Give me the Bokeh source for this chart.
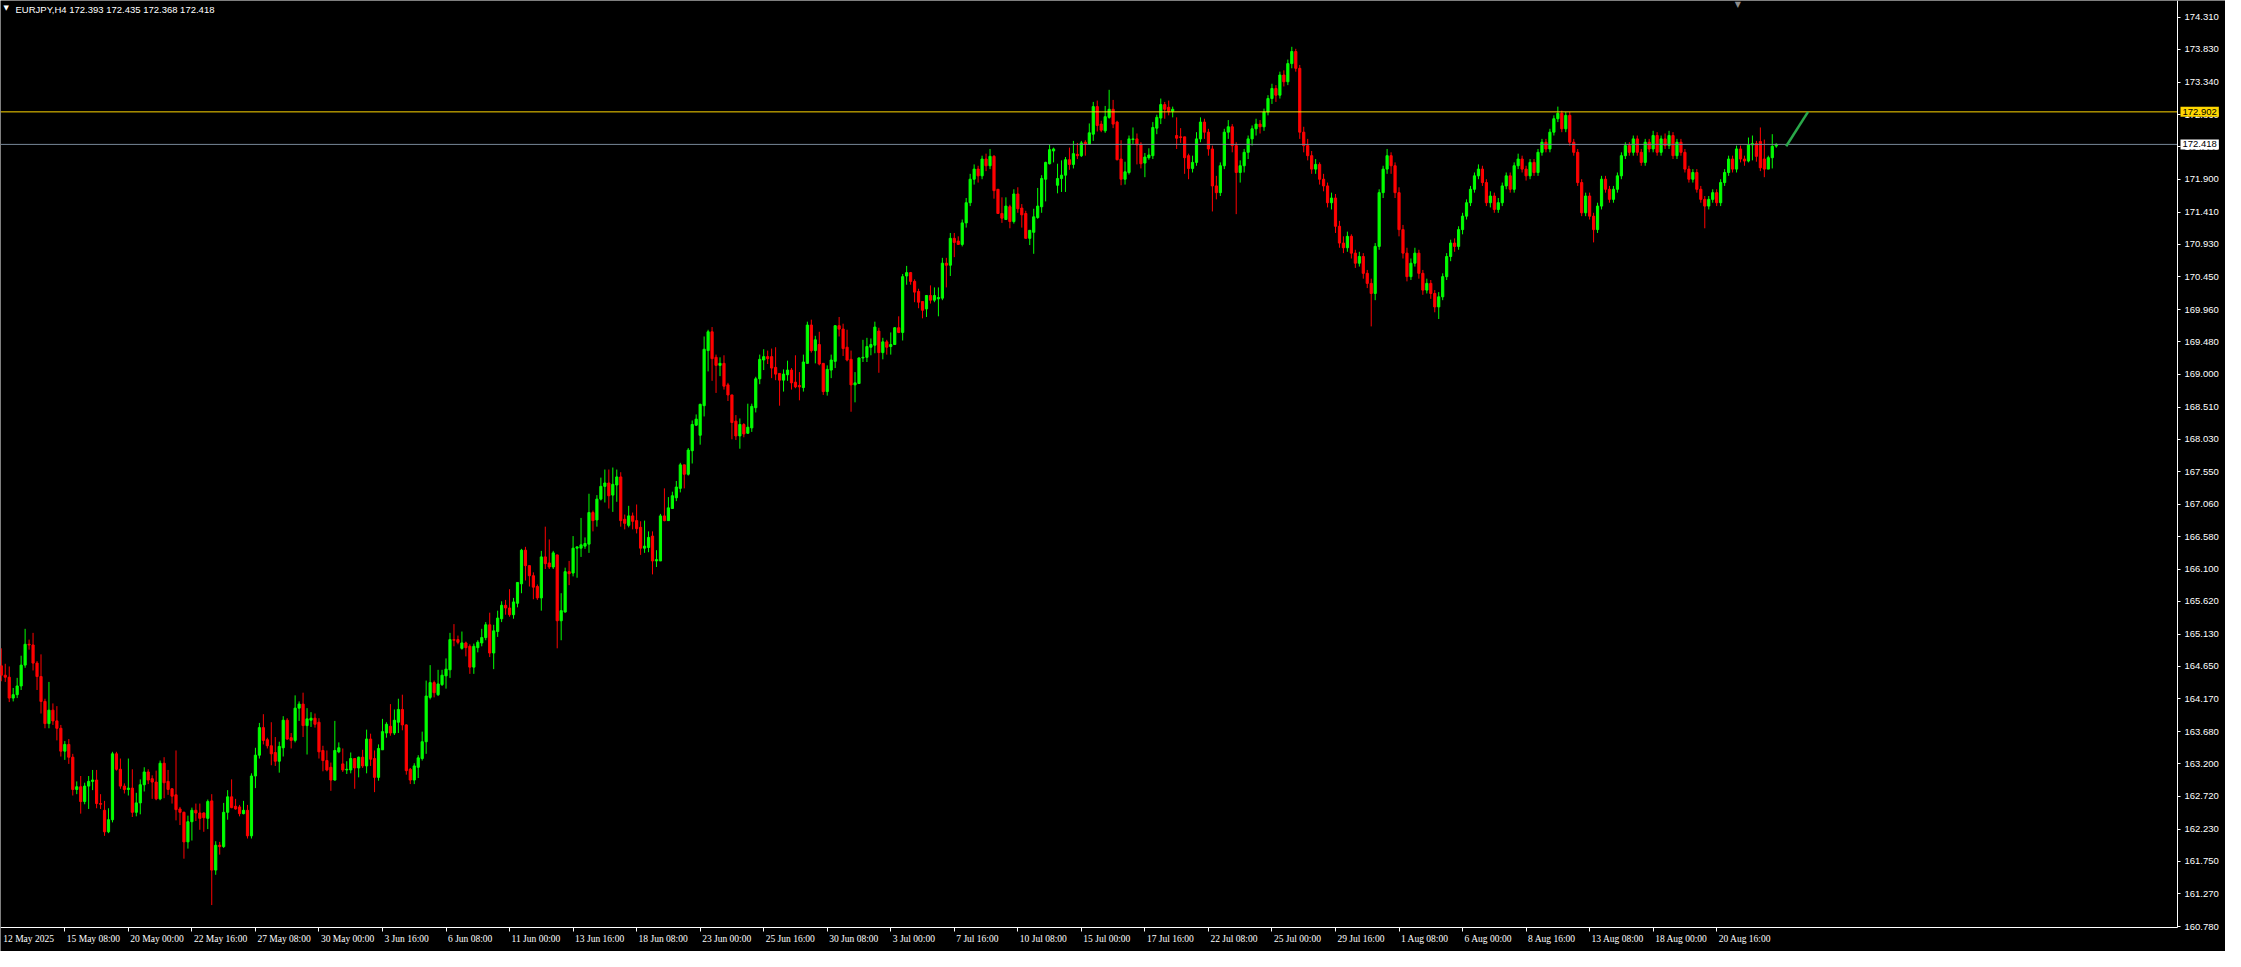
from bokeh.plotting import figure
from bokeh.models import (Range1d, FixedTicker, NumeralTickFormatter, Label,
                          LabelSet, ColumnDataSource)
from bokeh.embed import file_html
from bokeh.resources import INLINE

# ---------------- data ----------------
symbol = "EURJPY,H4"
header_ohlc = [172.393, 172.435, 172.368, 172.418]

opens = [
164.66,164.52,164.49,164.18,164.23,164.36,164.67,164.98,164.97,164.70,
164.50,164.13,163.80,164.00,163.84,163.73,163.39,163.49,163.30,162.82,
162.86,162.64,162.87,162.94,162.96,162.61,162.51,162.19,162.37,163.35,
163.12,162.87,162.82,162.84,162.48,162.62,162.89,163.08,162.98,162.93,
162.68,163.21,162.94,162.83,162.74,162.53,162.48,162.04,162.34,162.51,
162.47,162.47,162.39,162.65,161.62,161.99,161.97,162.48,162.71,162.57,
162.56,162.46,162.51,162.13,163.02,163.33,163.74,163.56,163.47,163.37,
163.24,163.44,163.85,163.59,163.55,164.03,164.09,163.77,163.85,163.88,
163.82,163.40,163.25,163.15,162.96,163.38,163.20,163.11,163.11,163.28,
163.14,163.30,163.17,163.57,163.28,163.00,163.41,163.66,163.76,163.66,
163.82,164.01,163.78,163.12,162.96,163.15,163.28,163.53,164.19,164.41,
164.23,164.38,164.51,164.60,165.05,165.05,164.92,165.00,164.95,164.64,
164.93,165.00,165.08,165.27,164.85,165.17,165.36,165.56,165.52,165.42,
165.59,165.88,166.38,166.15,166.00,165.84,165.67,166.28,166.19,166.13,
166.31,165.33,165.46,166.06,166.04,166.41,166.41,166.44,166.47,166.94,
166.83,167.14,167.33,167.38,167.20,167.35,167.47,166.84,166.75,166.89,
166.82,166.72,166.41,166.42,166.59,166.22,166.22,166.89,166.82,167.00,
167.16,167.30,167.65,167.51,167.86,168.24,168.09,168.53,169.35,169.63,
169.25,169.13,169.16,168.84,168.69,168.30,168.08,168.25,168.12,168.20,
168.50,168.93,169.21,169.26,169.26,169.10,169.01,168.91,168.99,169.06,
168.88,168.83,168.80,169.16,169.73,169.35,169.44,169.16,168.74,169.06,
169.19,169.72,169.67,169.40,169.22,168.84,168.86,169.24,169.25,169.40,
169.43,169.64,169.32,169.48,169.41,169.44,169.69,169.62,170.46,170.51,
170.38,170.23,170.08,169.97,170.17,170.10,170.12,170.13,170.65,170.62,
171.02,170.98,170.93,171.25,171.55,171.90,172.05,171.95,172.20,172.10,
172.24,171.75,171.39,171.30,171.49,171.27,171.68,171.47,171.39,171.02,
171.11,171.33,171.49,171.90,172.13,172.32,171.81,171.91,171.96,172.19,
172.12,172.27,172.25,172.45,172.42,172.57,172.98,172.72,172.62,172.82,
172.94,172.75,172.20,171.90,172.00,172.49,172.50,172.42,172.14,172.22,
172.25,172.66,172.81,173.01,172.97,172.91,172.55,172.53,172.53,172.25,
172.06,172.15,172.50,172.75,172.60,172.35,171.80,171.70,172.10,172.60,
172.68,172.40,172.00,172.10,172.30,172.50,172.65,172.72,172.68,172.90,
173.10,173.25,173.15,173.45,173.35,173.62,173.80,173.55,172.60,172.40,
172.25,172.05,172.12,171.90,171.80,171.55,171.62,171.20,170.95,170.88,
171.05,170.80,170.65,170.75,170.50,170.35,170.20,170.90,171.70,172.05,
172.25,172.10,171.70,171.15,170.80,170.45,170.65,170.80,170.50,170.25,
170.35,170.20,170.00,170.15,170.45,170.75,170.95,170.90,171.15,171.35,
171.55,171.75,171.95,172.05,171.85,171.55,171.65,171.45,171.55,171.80,
171.95,171.75,172.10,172.20,172.05,171.95,172.15,172.00,172.30,172.45,
172.35,172.60,172.80,172.88,172.65,172.85,172.45,172.30,171.85,171.40,
171.65,171.35,171.15,171.50,171.90,171.75,171.60,171.75,171.95,172.25,
172.40,172.30,172.50,172.30,172.15,172.45,172.35,172.55,172.30,172.50,
172.40,172.55,172.25,172.45,172.30,172.05,171.90,172.00,171.75,171.60,
171.50,171.60,171.70,171.55,171.85,172.00,172.20,172.05,172.35,172.20,
172.17,172.41,172.43,172.46,172.20,172.05,172.22,172.393]

highs = [
164.92,164.69,164.65,164.33,164.48,164.81,165.21,165.05,165.15,164.73,
164.83,164.17,164.42,164.10,164.06,163.78,163.54,163.57,163.35,162.94,
163.02,162.92,163.02,163.11,163.11,162.75,162.65,162.54,163.38,163.38,
163.28,162.91,163.28,163.12,162.77,162.97,163.15,163.12,163.03,163.10,
163.25,163.30,163.11,162.84,163.40,162.56,162.49,162.43,162.55,162.61,
162.61,162.48,162.67,162.75,162.05,162.04,162.62,162.81,162.97,162.68,
162.59,162.65,162.59,163.06,163.44,163.81,163.94,163.59,163.82,163.60,
163.53,163.91,163.88,163.66,164.22,164.13,164.26,164.03,163.97,163.95,
163.88,163.47,163.40,163.22,163.84,163.52,163.43,163.24,163.37,163.28,
163.31,163.41,163.71,163.65,163.40,163.49,163.87,163.82,164.09,164.01,
164.17,164.23,163.79,163.14,163.21,163.33,163.68,164.44,164.67,164.44,
164.60,164.60,164.77,165.15,165.28,165.11,165.17,165.02,164.98,164.99,
165.04,165.21,165.31,165.45,165.27,165.48,165.62,165.64,165.80,165.67,
165.90,166.40,166.43,166.15,166.05,165.87,166.37,166.73,166.54,166.37,
166.31,165.74,166.12,166.22,166.59,166.43,166.86,166.57,167.22,166.97,
167.20,167.46,167.58,167.58,167.61,167.58,167.54,166.91,167.04,166.94,
167.06,166.81,166.82,166.66,166.66,166.38,166.92,167.30,167.17,167.25,
167.41,167.68,167.65,167.90,168.31,168.40,168.56,169.56,169.66,169.70,
169.29,169.25,169.28,168.87,168.69,168.39,168.34,168.27,168.56,168.56,
168.96,169.29,169.37,169.35,169.38,169.40,169.01,169.07,169.20,169.09,
169.28,169.03,169.29,169.78,169.81,169.57,169.63,169.16,169.13,169.29,
169.73,169.85,169.75,169.66,169.35,169.03,169.25,169.51,169.54,169.53,
169.78,169.69,169.54,169.51,169.62,169.70,169.86,170.49,170.61,170.52,
170.41,170.27,170.08,170.17,170.32,170.29,170.29,170.73,170.73,171.10,
171.10,171.05,171.30,171.62,171.98,172.12,172.10,172.25,172.28,172.35,
172.26,171.75,171.63,171.63,171.52,171.75,171.78,171.53,171.43,171.14,
171.46,171.77,171.96,172.16,172.41,172.37,172.13,172.18,172.23,172.37,
172.47,172.44,172.47,172.48,172.73,173.05,173.07,172.77,172.99,173.23,
173.08,172.77,172.48,172.16,172.55,172.67,172.58,172.45,172.29,172.36,
172.75,172.86,173.10,173.05,173.07,172.98,172.82,172.66,172.53,172.28,
172.25,172.60,172.82,172.80,172.65,172.40,171.95,172.15,172.65,172.78,
172.72,172.45,172.18,172.35,172.55,172.70,172.80,172.78,172.95,173.15,
173.32,173.30,173.50,173.52,173.68,173.87,173.84,173.60,172.68,172.50,
172.32,172.20,172.15,171.98,171.85,171.70,171.68,171.28,171.05,171.12,
171.08,170.85,170.82,170.80,170.55,170.42,170.95,171.75,172.10,172.35,
172.30,172.15,171.78,171.22,170.88,170.72,170.88,170.85,170.55,170.42,
170.40,170.25,170.22,170.50,170.80,171.00,171.02,171.20,171.40,171.60,
171.80,172.00,172.12,172.10,171.90,171.72,171.70,171.62,171.85,172.00,
172.00,172.15,172.28,172.25,172.10,172.20,172.20,172.35,172.50,172.50,
172.65,172.85,172.98,172.92,172.90,172.90,172.50,172.35,171.90,171.70,
171.70,171.40,171.55,171.95,171.95,171.80,171.80,172.00,172.30,172.45,
172.45,172.55,172.55,172.35,172.50,172.50,172.62,172.60,172.55,172.58,
172.62,172.60,172.50,172.50,172.35,172.10,172.05,172.05,171.80,171.65,
171.65,171.75,171.75,171.90,172.05,172.25,172.25,172.40,172.40,172.25,
172.52,172.55,172.47,172.67,172.49,172.25,172.57,172.435]

lows = [
164.43,164.42,164.12,164.13,164.18,164.30,164.63,164.90,164.59,164.30,
163.95,163.73,163.73,163.78,163.55,163.31,163.26,163.20,162.73,162.75,
162.46,162.60,162.53,162.81,162.54,162.53,162.13,162.17,162.33,163.10,
162.83,162.76,162.73,162.41,162.42,162.45,162.79,162.90,162.68,162.66,
162.66,162.69,162.74,162.61,162.36,162.29,161.79,161.94,162.06,162.35,
162.22,162.19,162.23,161.10,161.55,161.85,161.95,162.37,162.54,162.52,
162.42,162.45,162.09,162.09,162.84,163.28,163.49,163.43,163.18,163.17,
163.07,163.31,163.56,163.43,163.52,163.84,163.60,163.34,163.75,163.74,
163.28,163.09,163.09,162.80,162.95,163.36,163.08,163.05,163.06,162.83,
163.00,163.14,163.06,163.17,162.78,162.95,163.41,163.59,163.62,163.63,
163.66,163.70,163.04,162.90,162.90,162.99,163.25,163.35,164.16,164.19,
164.21,164.36,164.32,164.48,164.95,164.98,164.90,164.80,164.54,164.54,
164.86,164.95,165.04,164.79,164.61,165.09,165.31,165.42,165.39,165.36,
165.53,165.74,165.93,165.84,165.65,165.64,165.48,166.10,166.10,166.10,
164.92,165.04,165.45,165.86,165.99,165.97,166.28,166.40,166.34,166.66,
166.73,167.12,167.09,167.00,166.95,167.10,166.73,166.69,166.72,166.69,
166.63,166.31,166.34,166.35,166.02,166.13,166.22,166.81,166.82,167.00,
167.11,167.24,167.30,167.49,167.67,168.23,167.95,168.37,169.04,168.90,
168.72,168.97,168.77,168.60,168.03,168.02,167.89,168.06,168.11,168.14,
168.43,168.85,169.06,169.15,168.94,168.91,168.53,168.74,168.90,168.77,
168.79,168.61,168.74,169.16,169.32,169.16,169.13,168.69,168.68,168.94,
169.09,169.56,169.27,169.19,168.44,168.58,168.86,169.18,169.18,169.28,
169.31,169.02,169.22,169.29,169.29,169.44,169.61,169.50,170.33,170.33,
170.07,169.98,169.83,169.85,170.05,170.07,169.86,170.10,170.29,170.46,
170.74,170.93,170.90,171.18,171.50,171.82,171.85,171.90,172.02,172.05,
171.61,171.39,171.25,171.30,171.17,171.24,171.40,171.18,171.02,170.92,
170.79,171.31,171.40,171.57,172.12,172.15,171.69,171.71,171.71,172.04,
172.06,172.20,172.23,172.25,172.41,172.47,172.61,172.60,172.59,172.80,
172.66,172.18,171.81,171.82,171.97,172.42,172.12,172.06,171.93,172.19,
172.20,172.57,172.72,172.80,172.85,172.82,172.35,172.44,171.98,171.90,
172.00,172.10,172.45,172.50,172.25,171.42,171.60,171.65,172.05,172.50,
172.30,171.38,171.85,172.00,172.20,172.40,172.55,172.58,172.62,172.85,
173.02,173.05,173.10,173.28,173.30,173.55,173.50,172.50,172.30,172.18,
171.98,171.98,171.82,171.72,171.48,171.45,171.10,170.88,170.80,170.82,
170.72,170.58,170.60,170.42,170.28,169.71,170.10,170.85,171.62,171.98,
171.98,171.62,171.05,170.72,170.38,170.40,170.60,170.42,170.18,170.20,
170.12,169.92,169.82,170.10,170.40,170.68,170.82,170.85,171.08,171.30,
171.50,171.70,171.90,171.80,171.50,171.48,171.40,171.40,171.50,171.75,
171.70,171.70,172.05,172.00,171.88,171.90,171.95,171.95,172.25,172.30,
172.30,172.55,172.75,172.60,172.60,172.40,172.25,171.80,171.35,171.35,
171.30,170.96,171.10,171.45,171.70,171.55,171.55,171.70,171.90,172.20,
172.25,172.25,172.25,172.10,172.10,172.30,172.30,172.25,172.25,172.35,
172.35,172.20,172.20,172.25,172.00,171.85,171.85,171.70,171.55,171.17,
171.45,171.55,171.50,171.50,171.80,171.95,172.00,172.00,172.15,172.10,
172.15,172.18,172.16,172.02,171.93,172.05,172.06,172.368]

closes = [
164.52,164.49,164.18,164.23,164.36,164.67,164.98,164.97,164.70,164.50,
164.13,163.80,164.00,163.84,163.73,163.39,163.49,163.30,162.82,162.86,
162.64,162.87,162.94,162.96,162.61,162.60,162.19,162.37,163.35,163.12,
162.87,162.82,162.84,162.48,162.62,162.89,163.08,162.96,162.93,162.68,
163.21,162.92,162.82,162.72,162.52,162.48,162.04,162.34,162.51,162.47,
162.39,162.40,162.64,161.62,161.99,161.97,162.48,162.71,162.55,162.53,
162.46,162.51,162.13,163.02,163.33,163.74,163.55,163.47,163.35,163.24,
163.46,163.85,163.57,163.55,164.03,164.09,163.77,163.87,163.88,163.79,
163.38,163.25,163.11,162.96,163.40,163.44,163.11,163.12,163.28,163.14,
163.30,163.17,163.57,163.27,163.00,163.43,163.68,163.79,163.66,163.85,
164.01,163.78,163.10,162.96,163.17,163.29,163.53,164.21,164.41,164.26,
164.39,164.52,164.61,165.05,165.04,165.01,165.00,164.93,164.64,164.95,
165.01,165.08,165.27,164.85,165.18,165.37,165.56,165.52,165.42,165.61,
165.90,166.38,166.15,166.00,165.83,165.67,166.28,166.18,166.13,166.34,
165.33,165.48,166.06,166.03,166.41,166.43,166.46,166.48,166.94,166.82,
167.14,167.33,167.38,167.19,167.36,167.47,166.82,166.78,166.89,166.81,
166.70,166.41,166.44,166.57,166.22,166.24,166.89,166.82,167.01,167.19,
167.32,167.65,167.51,167.87,168.25,168.33,168.55,169.37,169.63,169.23,
169.13,169.16,168.82,168.69,168.28,168.08,168.25,168.11,168.21,168.52,
168.93,169.22,169.26,169.23,169.09,169.00,168.91,169.00,169.06,168.87,
168.81,168.81,169.18,169.73,169.35,169.51,169.15,168.74,169.07,169.21,
169.72,169.67,169.38,169.21,168.84,168.87,169.24,169.25,169.41,169.44,
169.70,169.32,169.48,169.40,169.44,169.69,169.62,170.45,170.51,170.38,
170.22,170.07,169.95,170.17,170.10,170.17,170.14,170.65,170.62,171.02,
170.96,170.93,171.25,171.55,171.90,172.05,171.95,172.20,172.10,172.24,
171.73,171.39,171.32,171.50,171.27,171.68,171.46,171.37,171.02,171.14,
171.34,171.50,171.91,172.15,172.34,172.35,171.91,171.96,172.19,172.12,
172.28,172.25,172.44,172.42,172.59,172.98,172.70,172.63,172.83,172.94,
172.72,172.19,171.90,172.01,172.50,172.50,172.41,172.13,172.23,172.26,
172.67,172.82,173.01,172.94,172.91,172.94,172.51,172.52,172.22,172.06,
172.15,172.50,172.75,172.60,172.35,171.80,171.70,172.10,172.60,172.68,
172.40,172.00,172.10,172.30,172.50,172.65,172.72,172.68,172.90,173.10,
173.25,173.15,173.45,173.35,173.62,173.80,173.55,172.60,172.40,172.25,
172.05,172.12,171.90,171.80,171.55,171.62,171.20,170.95,170.88,171.05,
170.80,170.65,170.75,170.50,170.35,170.20,170.90,171.70,172.05,172.25,
172.10,171.70,171.15,170.80,170.45,170.65,170.80,170.50,170.25,170.35,
170.20,170.00,170.15,170.45,170.75,170.95,170.90,171.15,171.35,171.55,
171.75,171.95,172.05,171.85,171.55,171.65,171.45,171.55,171.80,171.95,
171.75,172.10,172.20,172.05,171.95,172.15,172.00,172.30,172.45,172.35,
172.60,172.80,172.88,172.65,172.85,172.45,172.30,171.85,171.40,171.65,
171.35,171.15,171.50,171.90,171.75,171.60,171.75,171.95,172.25,172.40,
172.30,172.50,172.30,172.15,172.45,172.35,172.55,172.30,172.50,172.40,
172.55,172.25,172.45,172.30,172.05,171.90,172.00,171.75,171.60,171.50,
171.60,171.70,171.55,171.85,172.00,172.20,172.05,172.35,172.20,172.17,
172.41,172.43,172.24,172.07,172.05,172.22,172.39,172.418]

y_ticks = [174.310, 173.830, 173.340, 172.860, 172.380, 171.900, 171.410, 170.930,
           170.450, 169.960, 169.480, 169.000, 168.510, 168.030, 167.550, 167.060,
           166.580, 166.100, 165.620, 165.130, 164.650, 164.170, 163.680, 163.200,
           162.720, 162.230, 161.750, 161.270, 160.780]

x_labels = ["12 May 2025", "15 May 08:00", "20 May 00:00", "22 May 16:00", "27 May 08:00",
            "30 May 00:00", "3 Jun 16:00", "6 Jun 08:00", "11 Jun 00:00", "13 Jun 16:00",
            "18 Jun 08:00", "23 Jun 00:00", "25 Jun 16:00", "30 Jun 08:00", "3 Jul 00:00",
            "7 Jul 16:00", "10 Jul 08:00", "15 Jul 00:00", "17 Jul 16:00", "22 Jul 08:00",
            "25 Jul 00:00", "29 Jul 16:00", "1 Aug 08:00", "6 Aug 00:00", "8 Aug 16:00",
            "13 Aug 08:00", "18 Aug 00:00", "20 Aug 16:00"]
x_label_bars = [0, 16, 32, 48, 64, 80, 96, 112, 128, 144, 160, 176, 192, 208, 224,
                240, 256, 272, 288, 304, 320, 336, 352, 368, 384, 400, 416, 432]

ask_level = 172.902
bid_level = 172.418
proj_x = [449.5, 455.0]
proj_y = [172.39, 172.902]

# ---------------- layout (pixels) ----------------
W, H = 2225, 951              # whole canvas = frame
CHART_W, CHART_H = 2177, 927  # chart area inside the frame (axes sit at its edges)
X0, XA = -0.2, 548.05         # bar range of chart area
Y1, YA = 174.559, 160.766     # price range of chart area
ppx = CHART_W / (XA - X0)
ppy = CHART_H / (Y1 - YA)
X_END = X0 + W / ppx
Y_START = Y1 - H / ppy
FONT = "Liberation Sans"

n = len(closes)
idx = list(range(n))
colors = ["#00ff00" if c >= o else "#ff0000" for o, c in zip(opens, closes)]
tops = [max(o, c) for o, c in zip(opens, closes)]
bots = [min(o, c) for o, c in zip(opens, closes)]
src = ColumnDataSource(dict(x=idx, o=opens, h=highs, l=lows, c=closes,
                            top=tops, bot=bots, color=colors))

p = figure(frame_width=W, frame_height=H, x_range=Range1d(X0, X_END),
           y_range=Range1d(Y_START, Y1), output_backend="svg", toolbar_location=None,
           y_axis_location="right", background_fill_color="black",
           border_fill_color="black", outline_line_color=None,
           min_border_left=0, min_border_top=0, min_border_right=0,
           min_border_bottom=0)
p.grid.visible = False

# candles
p.segment(x0="x", y0="l", x1="x", y1="h", color="color", line_width=1, source=src)
p.vbar(x="x", width=0.55, top="top", bottom="bot", fill_color="color",
       line_color="color", line_width=1, source=src)

# ask / bid lines (stop at the price axis)
p.segment(x0=[X0, X0], y0=[ask_level, bid_level], x1=[XA, XA], y1=[ask_level, bid_level],
          color=["#ffd700", "#778899"], line_width=1)
p.line(proj_x, proj_y, line_color="#2aa84a", line_width=2.5)

# right price axis, drawn at the chart edge
ya = p.yaxis[0]
ya.fixed_location = XA
ya.bounds = (YA, Y1)
ya.ticker = FixedTicker(ticks=y_ticks)
ya.formatter = NumeralTickFormatter(format="0.000")
ya.axis_line_color = "white"
ya.major_tick_line_color = "white"
ya.major_tick_out = 3
ya.major_tick_in = 0
ya.minor_tick_line_color = None
ya.major_label_standoff = 4
ya.major_label_text_color = "white"
ya.major_label_text_font = FONT
ya.major_label_text_font_size = "9.5px"

# bottom time axis (ticks), labels left-aligned after each tick
xa = p.xaxis[0]
xa.fixed_location = YA
xa.bounds = (X0, XA)
xa.ticker = FixedTicker(ticks=x_label_bars[1:])
xa.axis_line_color = "white"
xa.major_tick_line_color = "white"
xa.major_tick_out = 4
xa.major_tick_in = 0
xa.minor_tick_line_color = None
xa.major_label_text_color = None

lab_y = YA - 6 / ppy
xl_src = ColumnDataSource(dict(x=x_label_bars, y=[lab_y] * len(x_labels), text=x_labels))
p.add_layout(LabelSet(x="x", y="y", text="text", source=xl_src, x_offset=2,
                      text_baseline="top", text_align="left", text_color="white",
                      text_font=FONT, text_font_size="9.5px"))

# price tags on the axis
p.add_layout(Label(x=XA, y=ask_level, x_offset=3, text=f"{ask_level:.3f}",
                   text_baseline="middle", text_align="left", text_color="black",
                   text_font=FONT, text_font_size="9.5px",
                   background_fill_color="#ffd700", padding=2))
p.add_layout(Label(x=XA, y=bid_level, x_offset=3, text=f"{bid_level:.3f}",
                   text_baseline="middle", text_align="left", text_color="black",
                   text_font=FONT, text_font_size="9.5px",
                   background_fill_color="white", padding=2))

# header
header = symbol + "  " + " ".join(f"{v:.3f}" for v in header_ohlc)
p.add_layout(Label(x=X0, y=Y1, x_offset=15, y_offset=-3, text=header,
                   text_baseline="top", text_align="left", text_color="white",
                   text_font=FONT, text_font_size="9.5px"))
p.add_layout(Label(x=X0, y=Y1, x_offset=3, y_offset=-3, text="\u25bc",
                   text_baseline="top", text_align="left", text_color="white",
                   text_font="DejaVu Sans", text_font_size="7px"))
# chart-shift marker at top
p.add_layout(Label(x=437.3, y=Y1, y_offset=1, text="\u25bc",
                   text_baseline="top", text_align="center", text_color="#8c8c8c",
                   text_font="DejaVu Sans", text_font_size="8px"))

open("out.html", "w").write(file_html(p, INLINE))
